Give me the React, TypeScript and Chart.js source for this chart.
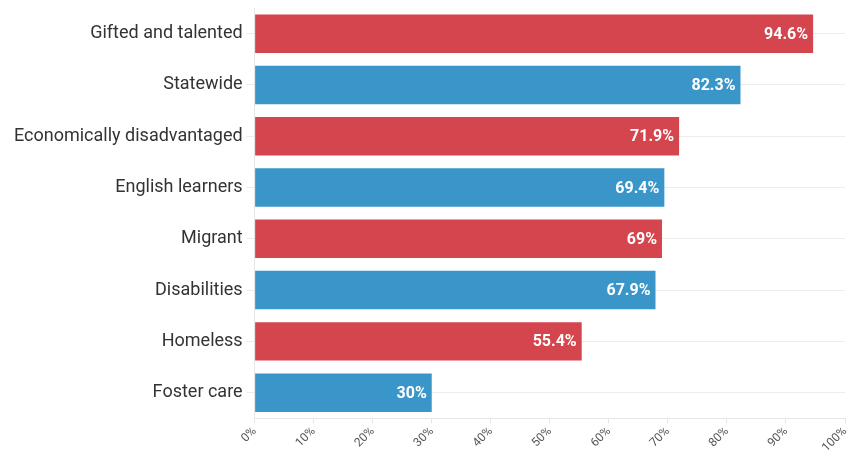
import React, { useEffect, useRef } from "react";
import { Chart, registerables } from "chart.js";

Chart.register(...registerables);

const categories = [
  "Gifted and talented",
  "Statewide",
  "Economically disadvantaged",
  "English learners",
  "Migrant",
  "Disabilities",
  "Homeless",
  "Foster care",
];
const values = [94.6, 82.3, 71.9, 69.4, 69, 67.9, 55.4, 30];
const valueLabels = ["94.6%", "82.3%", "71.9%", "69.4%", "69%", "67.9%", "55.4%", "30%"];
const RED = "#d4454d";
const BLUE = "#3a96c9";
const barColors = [RED, BLUE, RED, BLUE, RED, BLUE, RED, BLUE];

const labelPlugin = {
  id: "barLabels",
  afterDatasetsDraw(chart: any) {
    const ctx = chart.ctx;
    const meta = chart.getDatasetMeta(0);
    ctx.save();
    ctx.font = "bold 16px Roboto";
    ctx.fillStyle = "#ffffff";
    ctx.textAlign = "right";
    ctx.textBaseline = "middle";
    meta.data.forEach((bar: any, i: number) => {
      ctx.fillText(valueLabels[i], bar.x - 5, bar.y + 1);
    });
    ctx.restore();
  },
};

export default function App() {
  const ref = useRef<HTMLCanvasElement>(null);
  useEffect(() => {
    document.body.style.margin = "0";
    const chart = new Chart(ref.current!, {
      type: "bar",
      data: {
        labels: categories,
        datasets: [
          {
            data: values,
            backgroundColor: barColors,
            barPercentage: 0.75,
            categoryPercentage: 1,
          },
        ],
      },
      options: {
        indexAxis: "y",
        animation: false,
        responsive: false,
        layout: { padding: { top: 8, right: 7, left: 10, bottom: 0 } },
        plugins: { legend: { display: false }, tooltip: { enabled: false } },
        scales: {
          x: {
            min: 0,
            max: 100,
            afterFit: (s: any) => {
              s.paddingRight = 0;
            },
            ticks: {
              stepSize: 10,
              minRotation: 45,
              maxRotation: 45,
              color: "#555",
              font: { family: "Roboto", size: 12 },
              callback: (v: any) => v + "%",
              padding: 1,
            },
            grid: { drawOnChartArea: false, drawTicks: true, tickLength: 5, color: "#e6e6e6" },
            border: { color: "#e6e6e6" },
          },
          y: {
            afterFit: (s: any) => {
              s.paddingTop = 0;
              s.paddingBottom = 0;
            },
            ticks: {
              color: "#333",
              font: { family: "Roboto", size: 18 },
              padding: 4,
            },
            grid: { offset: false, color: "#ececec", tickLength: 8 },
            border: { color: "#e6e6e6" },
          },
        },
      },
      plugins: [labelPlugin],
    });
    return () => chart.destroy();
  }, []);
  return <canvas ref={ref} width={852} height={456} />;
}
